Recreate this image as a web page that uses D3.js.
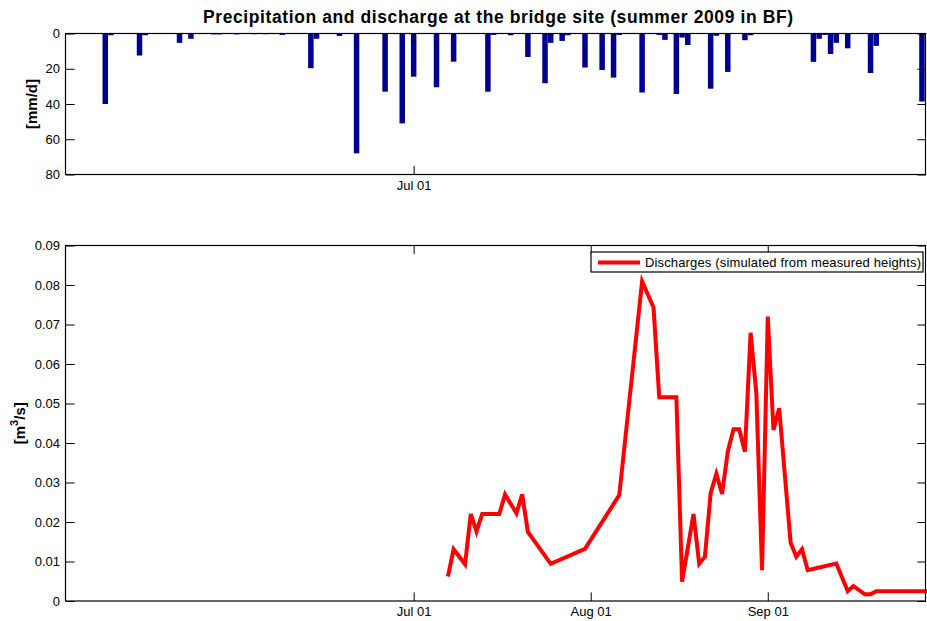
<!DOCTYPE html>
<html>
<head>
<meta charset="utf-8">
<script src="https://cdn.jsdelivr.net/npm/d3@7"></script>
<style>
body { margin: 0; background: #fff; }
svg { display: block; font-family: "Liberation Sans", Arial, sans-serif; }
</style>
</head>
<body>
<div id="graphArea"></div>
<script>
// daily precipitation [mm/d]
const rainDates = ["2009-05-08","2009-05-09","2009-05-14","2009-05-15","2009-05-21","2009-05-23",
  "2009-05-27","2009-05-28","2009-05-31","2009-06-03","2009-06-05","2009-06-08","2009-06-13",
  "2009-06-14","2009-06-18","2009-06-21","2009-06-26","2009-06-29","2009-07-01","2009-07-05",
  "2009-07-08","2009-07-14","2009-07-15","2009-07-18","2009-07-21","2009-07-24","2009-07-25",
  "2009-07-27","2009-07-28","2009-07-31","2009-08-03","2009-08-05","2009-08-06","2009-08-10",
  "2009-08-13","2009-08-14","2009-08-16","2009-08-17","2009-08-18","2009-08-22","2009-08-23",
  "2009-08-25","2009-08-28","2009-08-29","2009-09-09","2009-09-10","2009-09-11","2009-09-12",
  "2009-09-13","2009-09-15","2009-09-16","2009-09-19","2009-09-20","2009-09-28"]
const rainValues = [40, 1, 12.5, 1, 5.3, 3,
  0.5, 0.5, 0.5, 0.4, 0.4, 0.8, 19.7,
  3, 1.4, 68, 33, 51, 24.5, 30.5,
  16, 33, 0.8, 1, 13.3, 28.2, 5.3,
  4.2, 1, 19.3, 20.7, 25, 0.8, 33.5,
  0.8, 3.6, 34.3, 2.3, 6.5, 31.3, 1.3,
  21.8, 3.8, 1, 16.1, 3, 0.8, 11.6,
  5.3, 8.4, 0.3, 22.4, 7, 38.6]

// discharge [m3/s]
const flowDates = ["2009-07-07","2009-07-08","2009-07-10","2009-07-11","2009-07-12","2009-07-13",
  "2009-07-16","2009-07-17","2009-07-19","2009-07-20","2009-07-21","2009-07-25","2009-07-31",
  "2009-08-06","2009-08-10","2009-08-12","2009-08-13","2009-08-16","2009-08-17","2009-08-19",
  "2009-08-20","2009-08-21","2009-08-22","2009-08-23","2009-08-24","2009-08-25","2009-08-26",
  "2009-08-27","2009-08-28","2009-08-29","2009-08-30","2009-08-31","2009-09-01","2009-09-02",
  "2009-09-03","2009-09-05","2009-09-06","2009-09-07","2009-09-08","2009-09-13","2009-09-15",
  "2009-09-16","2009-09-18","2009-09-19","2009-09-20","2009-09-29"]
const flowValues = [0.0062, 0.0131, 0.0093, 0.0220, 0.0176, 0.0220,
  0.0220, 0.0270, 0.0222, 0.0270, 0.0175, 0.0094, 0.0132,
  0.0268, 0.0809, 0.0743, 0.0516, 0.0516, 0.0049, 0.0220,
  0.0094, 0.0112, 0.0273, 0.0322, 0.0271, 0.0378, 0.0435,
  0.0435, 0.0378, 0.0679, 0.0526, 0.0078, 0.0720, 0.0433,
  0.0488, 0.0148, 0.0112, 0.0131, 0.0078, 0.0095, 0.0025,
  0.0038, 0.0017, 0.0017, 0.0025, 0.0025]

// tick labels
const rainTicks = [0, 20, 40, 60, 80]
const flowTicks = [0, 0.01, 0.02, 0.03, 0.04, 0.05, 0.06, 0.07, 0.08, 0.09]
const rainDateTicks = ["2009-07-01"]
const flowDateTicks = ["2009-07-01", "2009-08-01", "2009-09-01"]

const title = "Precipitation and discharge at the bridge site (summer 2009 in BF)"
const legendLabel = "Discharges (simulated from measured heights)"

const parse = d3.timeParse("%Y-%m-%d")
const fmt = d3.timeFormat("%b %d")
const left = 66, right = 926
const tickLen = 8.6
const font = "\"Liberation Sans\", Arial, sans-serif"

const svg = d3.select("#graphArea").append("svg")
  .attr("width", 927)
  .attr("height", 621)

// shared time axis (both panels)
const x = d3.scaleTime()
  .domain([new Date(2009, 4, 1, 3), new Date(2009, 8, 28, 17)])
  .range([left, right])

const yRain = d3.scaleLinear().domain([0, 80]).range([33.5, 174.5])
const yFlow = d3.scaleLinear().domain([0, 0.09]).range([601, 245.5])

// reference text is rendered wider than Liberation Sans, so stretch to its length
svg.append("text")
  .attr("x", 203)
  .attr("y", 22.5)
  .attr("font-size", 17.5)
  .attr("font-weight", "bold")
  .attr("textLength", 590)
  .attr("lengthAdjust", "spacing")
  .text(title)

/*
 * draws box + inward ticks on all four sides
 */
function frame(y, yTicks, xTicks, yFmt) {
  const top = Math.min(y.range()[0], y.range()[1])
  const bottom = Math.max(y.range()[0], y.range()[1])
  const clean = g => {
    g.select(".domain").remove()
    g.attr("font-size", 13).attr("font-family", font)
    g.selectAll("line").attr("stroke", "#000")
    g.selectAll("text").attr("fill", "#000")
  }
  svg.append("g")
    .attr("transform", "translate(" + left + ",0)")
    .call(d3.axisLeft(y).tickValues(yTicks).tickSize(-tickLen).tickPadding(6).tickFormat(yFmt))
    .call(clean)
  svg.append("g")
    .attr("transform", "translate(" + right + ",0)")
    .call(d3.axisRight(y).tickValues(yTicks).tickSize(-tickLen).tickFormat(""))
    .call(clean)
  svg.append("g")
    .attr("transform", "translate(0," + bottom + ")")
    .call(d3.axisBottom(x).tickValues(xTicks.map(parse)).tickSize(-tickLen).tickPadding(6).tickFormat(fmt))
    .call(clean)
  svg.append("g")
    .attr("transform", "translate(0," + top + ")")
    .call(d3.axisTop(x).tickValues(xTicks.map(parse)).tickSize(-tickLen).tickFormat(""))
    .call(clean)
  svg.append("rect")
    .attr("x", left - 0.5)
    .attr("y", top)
    .attr("width", right - left)
    .attr("height", bottom - top)
    .attr("fill", "none")
    .attr("stroke", "#000")
    .attr("stroke-width", 1.2)
}

// clip areas
const defs = svg.append("defs")
defs.append("clipPath").attr("id", "clipTop")
  .append("rect").attr("x", left).attr("y", 33.5).attr("width", right - left).attr("height", 141)
defs.append("clipPath").attr("id", "clipBottom")
  .append("rect").attr("x", left).attr("y", 245.5).attr("width", right - left + 1).attr("height", 355.5)

// precipitation bars, hanging from the top
const rain = rainDates.map((d, i) => ({date: parse(d), value: rainValues[i]}))
const barW = 5.5
svg.append("g")
  .attr("clip-path", "url(#clipTop)")
  .selectAll("rect")
  .data(rain)
  .join("rect")
    .attr("x", d => x(d.date) - barW / 2)
    .attr("y", yRain(0))
    .attr("width", barW)
    .attr("height", d => yRain(d.value) - yRain(0))
    .attr("fill", "#000090")

frame(yRain, rainTicks, rainDateTicks, d3.format("d"))

svg.append("text")
  .attr("transform", "translate(37," + (33.5 + 174.5) / 2 + ") rotate(-90)")
  .attr("text-anchor", "middle")
  .attr("font-size", 15)
  .attr("font-weight", "bold")
  .text("[mm/d]")

// discharge line
const flow = flowDates.map((d, i) => ({date: parse(d), value: flowValues[i]}))
const line = d3.line()
  .x(d => x(d.date))
  .y(d => yFlow(d.value))

svg.append("path")
  .datum(flow)
  .attr("clip-path", "url(#clipBottom)")
  .attr("d", line)
  .attr("fill", "none")
  .attr("stroke", "#ff0000")
  .attr("stroke-width", 4)

frame(yFlow, flowTicks, flowDateTicks, d => d === 0 ? "0" : d3.format(".2f")(d))

const yl = svg.append("text")
  .attr("transform", "translate(25," + (245.5 + 601) / 2 + ") rotate(-90)")
  .attr("text-anchor", "middle")
  .attr("font-size", 15)
  .attr("font-weight", "bold")
yl.append("tspan").text("[m")
yl.append("tspan").attr("font-size", 11).attr("dy", -7).text("3")
yl.append("tspan").attr("dy", 7).text("/s]")

// legend
const leg = svg.append("g")
leg.append("rect")
  .attr("x", 591)
  .attr("y", 252)
  .attr("width", 332)
  .attr("height", 20)
  .attr("fill", "#fff")
  .attr("stroke", "#000")
  .attr("stroke-width", 1.2)
leg.append("line")
  .attr("x1", 598).attr("x2", 640)
  .attr("y1", 262.5).attr("y2", 262.5)
  .attr("stroke", "#ff0000")
  .attr("stroke-width", 4)
leg.append("text")
  .attr("x", 645)
  .attr("y", 266.5)
  .attr("font-size", 13)
  .attr("textLength", 276)
  .attr("lengthAdjust", "spacing")
  .text(legendLabel)
</script>
</body>
</html>
